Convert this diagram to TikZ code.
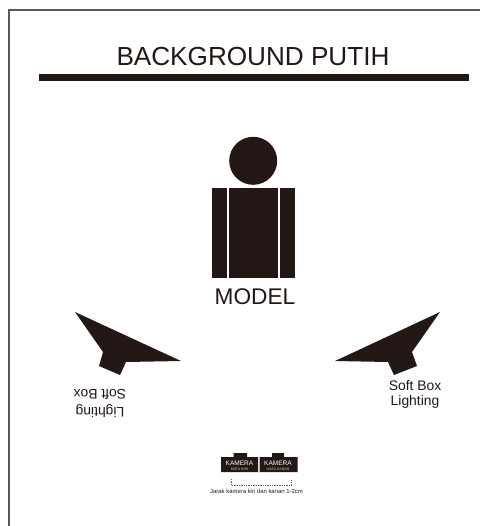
\documentclass[tikz,border=0pt]{standalone}
\usepackage{fontspec}
\setmainfont{Liberation Sans}
\definecolor{ink}{HTML}{231815}
\tikzset{
  solid shape/.style={fill=ink,draw=none},
  lbl/.style={text=ink,inner sep=0pt,align=center},
  softlbl/.style={lbl,font=\fontsize{10.4}{12}\selectfont},
  kam/.style={lbl,text=white,font=\fontsize{4.9}{5}\selectfont},
  kamsub/.style={lbl,text=white!75!ink,font=\fontsize{2.7}{3}\selectfont},
}
\begin{document}
\begin{tikzpicture}[x=0.75pt,y=-0.75pt]
\useasboundingbox (0,0) rectangle (480,526);
\fill[white] (0,0) rectangle (480,526);
\draw[draw=black!65,line width=0.85pt] (9,526) -- (9,10) -- (480,10);
\node[lbl,font=\fontsize{19.6}{22}\selectfont] (title) at (253,56) {BACKGROUND PUTIH};
\fill[solid shape] (39.3,73.7) rectangle (469,80.7);
\fill[solid shape] (253.2,160.8) circle (24);
\fill[solid shape] (211.7,188.3) rectangle (227.3,278.3);
\fill[solid shape] (228.7,188.3) rectangle (277.7,278.3);
\fill[solid shape] (279.7,188.3) rectangle (295.3,278.3);
\node[lbl,font=\fontsize{17}{18}\selectfont] (model) at (255,297) {MODEL};
\fill[solid shape] (75,312) -- (181,361) -- (126,362) -- (120,375) -- (99,366) -- (103,352) -- cycle;
\fill[solid shape] (440,312) -- (335,361) -- (388,362) -- (394,375) -- (417,366) -- (412,352) -- cycle;
\node[softlbl,rotate=180] (softl1) at (100,394.5) {Soft Box};
\node[softlbl,rotate=180] (softl2) at (100,411) {Lighting};
\node[softlbl] (softr1) at (415,385.5) {Soft Box};
\node[softlbl] (softr2) at (415,402) {Lighting};
\fill[solid shape] (221,457) -- (233.5,457) -- (233.5,453) -- (247,453) -- (247,457) -- (258,457) -- (258,472) -- (221,472) -- cycle;
\fill[solid shape] (259.5,457) -- (272,457) -- (272,453) -- (284,453) -- (284,457) -- (297.5,457) -- (297.5,472) -- (259.5,472) -- cycle;
\node[kam] (ka) at (239.5,463.5) {KAMERA};
\node[kamsub] (kb) at (239.5,469) {MATA KIRI};
\node[kam] (kc) at (278,463.5) {KAMERA};
\node[kamsub] (kd) at (278,469) {MATA KANAN};
\draw[ink!70,line width=0.3pt,densely dotted] (231,479) -- (231,485) -- (291.5,485) -- (291.5,479);
\node[lbl,font=\fontsize{4.45}{5}\selectfont] (cap) at (256.5,491.5) {Jarak kamera kiri dan kanan 1-2cm};
\end{tikzpicture}
\end{document}
